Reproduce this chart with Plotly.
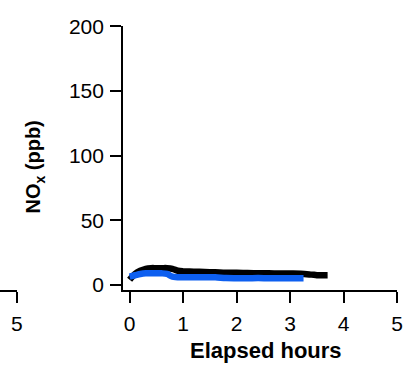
import plotly.graph_objects as go

# Data
black_x = [0, 0.1, 0.2, 0.3, 0.4, 0.5, 0.6, 0.7, 0.8, 0.9, 1.0, 1.2, 1.4, 1.6, 1.8, 2.0, 2.2, 2.4, 2.6, 2.8, 3.0, 3.2, 3.4, 3.5, 3.6, 3.7]
black_y = [4.0, 8.5, 11, 12.5, 13, 13, 13, 13, 12.5, 11, 10.5, 10.3, 10, 9.8, 9.5, 9.5, 9.2, 9, 9, 8.8, 8.8, 8.7, 8, 7.6, 7.5, 7.5]

blue_x = [0, 0.1, 0.2, 0.3, 0.4, 0.5, 0.6, 0.7, 0.8, 1.0, 1.2, 1.4, 1.6, 1.8, 2.0, 2.2, 2.4, 2.6, 2.8, 3.0, 3.25]
blue_y = [6.5, 7.5, 8.5, 9, 9, 9, 9, 8.5, 6.5, 6, 6, 6, 6, 5.3, 5.2, 5.2, 5.3, 5.2, 5.2, 5.2, 5.2]

x_ticks = [0, 1, 2, 3, 4, 5]
y_ticks = [0, 50, 100, 150, 200]

FONT = "Liberation Sans, Arial, Helvetica, sans-serif"
W, H = 416, 369

fig = go.Figure()
fig.add_trace(go.Scatter(x=black_x, y=black_y, mode="lines",
                         line=dict(color="#000000", width=6.5, shape="spline"),
                         showlegend=False))
fig.add_trace(go.Scatter(x=blue_x, y=blue_y, mode="lines",
                         line=dict(color="#0d5ff0", width=6.5, shape="spline"),
                         showlegend=False))
# neighbouring panel fragment (left)
fig.add_trace(go.Scatter(x=[], y=[], xaxis="x2", yaxis="y2", showlegend=False))

axis_common = dict(showline=True, linecolor="black", linewidth=2,
                   ticks="outside", ticklen=11, tickwidth=2, tickcolor="black",
                   showgrid=False, zeroline=False,
                   tickfont=dict(family=FONT, size=21, color="black"))

fig.update_layout(
    width=W, height=H,
    margin=dict(l=0, r=0, t=0, b=0),
    paper_bgcolor="white", plot_bgcolor="white",
    xaxis=dict(domain=[125 / W, 403 / W], range=[-0.12, 5.0], tickvals=x_ticks,
               anchor="y", ticklabelstandoff=3, **axis_common),
    yaxis=dict(domain=[1 - 292 / H, 1 - 15 / H], range=[-3.7, 200], tickvals=y_ticks,
               anchor="x", ticklabelstandoff=2, **axis_common),
    xaxis2=dict(domain=[0, 17 / W], range=[4.6, 5.0], tickvals=[5],
                anchor="y2", ticklabelstandoff=3, **axis_common),
    yaxis2=dict(domain=[1 - 292 / H, 1 - 15 / H], range=[-3.7, 200],
                anchor="x2", visible=False),
    annotations=[
        dict(text="<b>NO<sub>x</sub> (ppb)</b>", x=35 / W, y=1 - 163 / H,
             xref="paper", yref="paper", textangle=-90, showarrow=False,
             xanchor="center", yanchor="middle",
             font=dict(family=FONT, size=20, color="black")),
        dict(text="<b>Elapsed hours</b>", x=270 / W, y=1 - 356 / H,
             xref="paper", yref="paper", showarrow=False,
             xanchor="center", yanchor="middle",
             font=dict(family=FONT, size=22, color="black")),
    ],
)

fig.write_html("out.html")
